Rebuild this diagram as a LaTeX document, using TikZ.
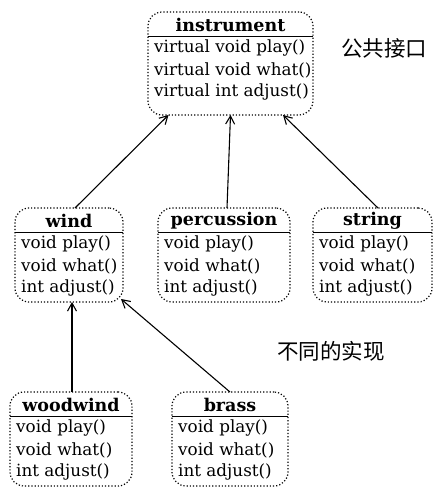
\documentclass[tikz,border=0pt]{standalone}
\usepackage{fontspec}
\setmainfont{DejaVu Serif}
\newfontfamily\cjk{Noto Sans CJK SC}
\usetikzlibrary{arrows.meta,calc}
\tikzset{
  box/.style={draw, dotted, line width=1.2pt, rounded corners=14pt, inner sep=0pt, outer sep=0pt},
  ttl/.style={font=\bfseries\fontsize{17.5}{20}\selectfont, inner sep=0pt},
  body/.style={anchor=west, font=\fontsize{16.8}{20}\selectfont, inner sep=0pt},
  sep/.style={line width=1pt},
  arr/.style={-{Straight Barb[length=8pt,width=9pt]}, line width=1.1pt},
  note/.style={font=\cjk\fontsize{21.5}{24}\selectfont, inner sep=0pt}
}
\newcommand\mkclass[7]{%
  \node[box, minimum width=#4, minimum height=#5] (#1) at ({#2},{#3+#5/2}) {};
  \node[ttl] (#1-t) at ([yshift=-12.5pt]#1.north) {#6};
  \draw[sep] ([yshift=-24pt]#1.north west) -- ([yshift=-24pt]#1.north east);
  \foreach \l [count=\i] in {#7}
    \node[body] (#1-\i) at ([xshift=6pt, yshift={-14-22*\i}]#1.north west) {\l};
}
\begin{document}
\begin{tikzpicture}[x=1pt,y=-1pt]
\useasboundingbox (0,0) rectangle (438,490);
\mkclass{instrument}{230.5}{12}{165}{103}{instrument}{{virtual void play()},{virtual void what()},{virtual int adjust()}}
\mkclass{wind}{69}{208}{108}{94}{wind}{{void play()},{void what()},{int adjust()}}
\mkclass{percussion}{224}{208}{132}{94}{percussion}{{void play()},{void what()},{int adjust()}}
\mkclass{string}{372.5}{208}{119}{94}{string}{{void play()},{void what()},{int adjust()}}
\mkclass{woodwind}{71}{392}{122}{94}{woodwind}{{void play()},{void what()},{int adjust()}}
\mkclass{brass}{230}{392}{116}{94}{brass}{{void play()},{void what()},{int adjust()}}
\draw[arr] ([xshift=6pt]wind.north) -- ([xshift=-62pt]instrument.south);
\draw[arr] ([xshift=3pt]percussion.north) -- (instrument.south);
\draw[arr] ([xshift=5.5pt]string.north) -- ([xshift=52.5pt]instrument.south);
\draw[arr] ([xshift=1pt]woodwind.north) -- ([xshift=3pt]wind.south);
\draw[arr] (brass.north) -- ([xshift=-2pt,yshift=3pt]wind.south east);
\node[note] (iface) at (384,48.5) {公共接口};
\node[note] (impl) at (331,351) {不同的实现};
\end{tikzpicture}
\end{document}
